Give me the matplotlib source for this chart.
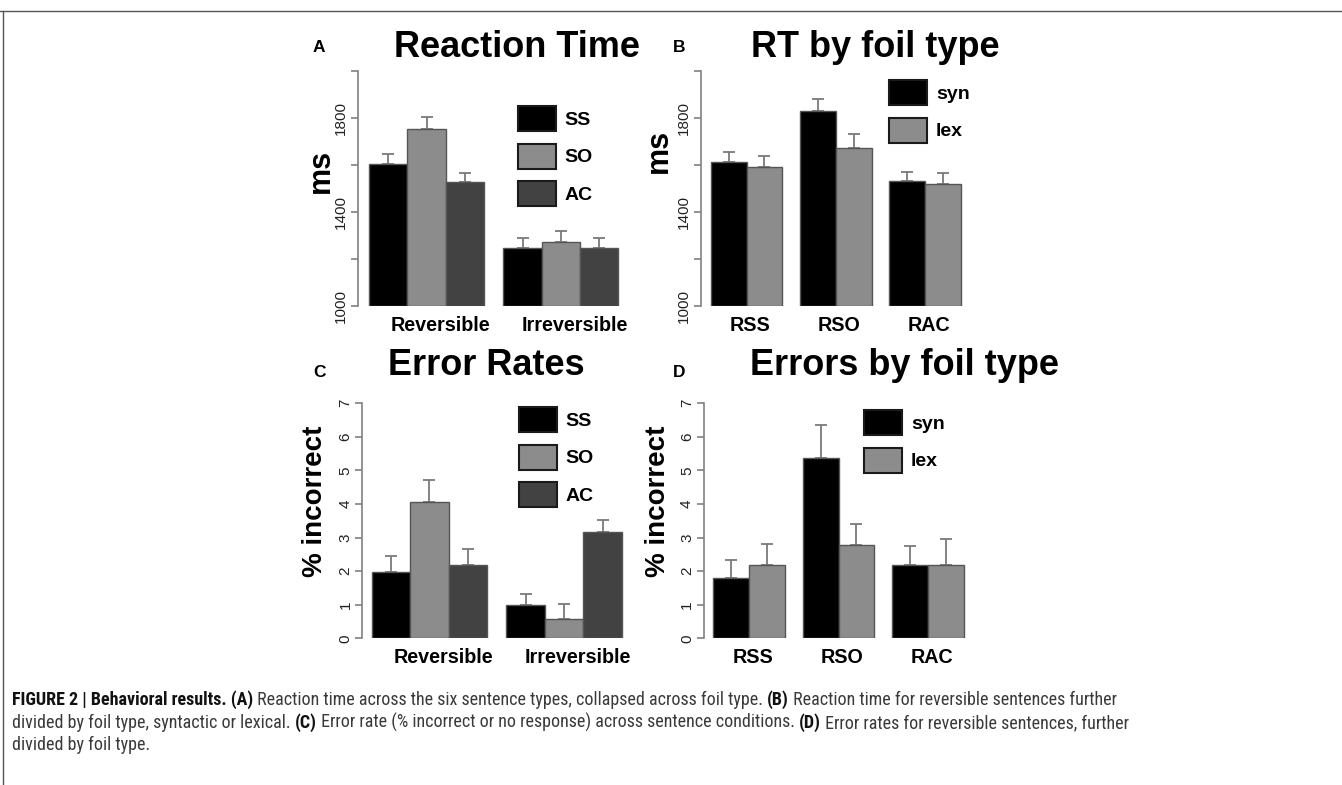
import numpy as np
import matplotlib
matplotlib.use('Agg')
import matplotlib.pyplot as plt
from matplotlib.patches import Patch
from matplotlib import font_manager as fm

# 데이터
rt_groups = ['Reversible', 'Irreversible']
rt_types = ['SS', 'SO', 'AC']
rt_mean = [[1603, 1752, 1526], [1247, 1271, 1247]]
rt_err = [[42, 51, 41], [41, 48, 41]]

foil_groups = ['RSS', 'RSO', 'RAC']
foil_types = ['syn', 'lex']
foil_rt_mean = [[1614, 1593], [1830, 1674], [1532, 1520]]
foil_rt_err = [[43, 45], [51, 59], [39, 46]]

er_mean = [[1.97, 4.05, 2.19], [0.98, 0.58, 3.18]]
er_err = [[0.47, 0.67, 0.48], [0.33, 0.43, 0.34]]

foil_er_mean = [[1.79, 2.19], [5.36, 2.77], [2.19, 2.19]]
foil_er_err = [[0.55, 0.63], [0.99, 0.64], [0.57, 0.76]]

rt_ticks = [1000, 1200, 1400, 1600, 1800, 2000]
rt_ticklabels = ['1000', '', '1400', '', '1800', '']
er_ticks = [0, 1, 2, 3, 4, 5, 6, 7]
er_ticklabels = ['0', '1', '2', '3', '4', '5', '6', '7']

type_colors = ['#000000', '#8c8c8c', '#424242']
foil_colors = ['#000000', '#8c8c8c']

W, H = 1342, 785
plt.rcParams['font.family'] = ['Liberation Sans', 'DejaVu Sans']

fig = plt.figure(figsize=(W / 100, H / 100), dpi=100)


def fx(x):
    return x / W


def fy(y):
    return 1 - y / H


def add_panel(left, top, bottom, unit, off, nbars):
    width = (nbars + 2 * off) * unit
    ax = fig.add_axes([fx(left), fy(bottom), width / W, (bottom - top) / H])
    ax.set_xlim(-off, nbars + off)
    return ax


def draw_bars(ax, groups, means, errs, colors, ymin, ticks, ticklabels, label_shift, label_y):
    n = len(means[0])
    centers = []
    for g in range(len(groups)):
        xs = np.array([g * (n + 0.5) + j for j in range(n)])
        vals = np.array(means[g])
        ax.bar(xs, vals - ymin, bottom=ymin, width=1, align='edge', color=colors,
               edgecolor='#555555', linewidth=1, zorder=2)
        ax.errorbar(xs + 0.5, vals, yerr=[np.zeros(n), errs[g]], fmt='none',
                    ecolor='#7a7a7a', elinewidth=1.3, capsize=4, capthick=1.3, zorder=1)
        centers.append(xs.mean() + 0.5)
    ax.set_ylim(ticks[0], ticks[-1])
    for s in ['top', 'right', 'bottom']:
        ax.spines[s].set_visible(False)
    ax.spines['left'].set_color('#808080')
    ax.spines['left'].set_linewidth(1.2)
    ax.set_xticks([])
    ax.set_yticks(ticks)
    ax.set_yticklabels(ticklabels, rotation=90, va='center', fontsize=11, color='#222222')
    ax.tick_params(axis='y', length=5, width=1.2, color='#808080', pad=2)
    ax.patch.set_visible(False)
    for c, name in zip(centers, groups):
        ax.text(c + label_shift, label_y, name, transform=ax.get_xaxis_transform(),
                ha='center', va='baseline', fontsize=14.2, fontweight='bold')


def add_legend(ax, labels, colors, x, y):
    handles = [Patch(facecolor=c, edgecolor='#1a1a1a', linewidth=1.5) for c in colors]
    ax.legend(handles, labels, loc='upper left', bbox_to_anchor=(fx(x), fy(y)),
              bbox_transform=fig.transFigure, frameon=False, borderpad=0, borderaxespad=0,
              handlelength=1.96, handleheight=1.6, handletextpad=0.45, labelspacing=0.65,
              prop={'weight': 'bold', 'size': 14})


# A: Reaction Time
axA = add_panel(358, 71, 306, 38.36, 0.29, 6.5)
draw_bars(axA, rt_groups, rt_mean, rt_err, type_colors, 1000, rt_ticks, rt_ticklabels,
          0.37, -(330.7 - 306) / (306 - 71))
add_legend(axA, rt_types, type_colors, 518, 106)

# B: RT by foil type
axB = add_panel(701, 71, 306, 35.67, 0.28, 7)
draw_bars(axB, foil_groups, foil_rt_mean, foil_rt_err, foil_colors, 1000, rt_ticks, rt_ticklabels,
          0.1, -(330.7 - 306) / (306 - 71))
add_legend(axB, foil_types, foil_colors, 889, 80)

# C: Error Rates
axC = add_panel(362.3, 403.3, 638.3, 38.5, 0.245, 6.5)
draw_bars(axC, rt_groups, er_mean, er_err, type_colors, 0, er_ticks, er_ticklabels,
          0.35, -(663 - 638.3) / (638.3 - 403.3))
add_legend(axC, rt_types, type_colors, 519, 407)

# D: Errors by foil type
axD = add_panel(703.7, 403.3, 638.3, 35.77, 0.27, 7)
draw_bars(axD, foil_groups, foil_er_mean, foil_er_err, foil_colors, 0, er_ticks, er_ticklabels,
          0.1, -(663 - 638.3) / (638.3 - 403.3))
add_legend(axD, foil_types, foil_colors, 864, 410)

# 제목, 패널 문자, y축 라벨
titles = [('Reaction Time', 516.7, 56.7), ('RT by foil type', 875, 56.7),
          ('Error Rates', 486.7, 375), ('Errors by foil type', 905, 375)]
for t, x, y in titles:
    fig.text(fx(x), fy(y), t, ha='center', va='baseline', fontsize=26, fontweight='bold')

letters = [('A', 313, 52.3), ('B', 673, 51.7), ('C', 313, 376.7), ('D', 673, 376.7)]
for t, x, y in letters:
    fig.text(fx(x), fy(y), t, ha='left', va='baseline', fontsize=12.5, fontweight='bold')

ylabels = [('ms', 321, 170.5), ('ms', 659, 151), ('% incorrect', 315, 501), ('% incorrect', 658, 501)]
for t, x, y in ylabels:
    fig.text(fx(x), fy(y), t, ha='center', va='center', rotation=90,
             fontsize=22 if t == 'ms' else 20, fontweight='bold')

# 테두리 선
fig.add_artist(plt.Line2D([0, 1], [fy(11), fy(11)], transform=fig.transFigure,
                          color='#555555', linewidth=1))
fig.add_artist(plt.Line2D([fx(3), fx(3)], [fy(11), 0], transform=fig.transFigure,
                          color='#555555', linewidth=1))

# 캡션
names = {f.name for f in fm.fontManager.ttflist}
cap_family = 'Liberation Sans'
for cand in ['Liberation Sans Narrow', 'Roboto Condensed', 'Open Sans Condensed']:
    if cand in names:
        cap_family = cand
        break

caption = [
    [('FIGURE 2 | Behavioral results. (A)', True),
     (' Reaction time across the six sentence types, collapsed across foil type. ', False),
     ('(B)', True), (' Reaction time for reversible sentences further', False)],
    [('divided by foil type, syntactic or lexical. ', False), ('(C)', True),
     (' Error rate (% incorrect or no response) across sentence conditions. ', False),
     ('(D)', True), (' Error rates for reversible sentences, further', False)],
    [('divided by foil type.', False)],
]
cap_y = [705, 728, 750]

renderer = fig.canvas.get_renderer()


def draw_line(segs, y, size):
    x = 12
    for s, bold in segs:
        t = fig.text(fx(x), fy(y), s, ha='left', va='baseline', fontsize=size,
                     family=cap_family, fontweight='bold' if bold else 'normal',
                     color='#111111' if bold else '#3a3a3a')
        x += t.get_window_extent(renderer).width


for segs, y in zip(caption, cap_y):
    draw_line(segs, y, 13)

fig.savefig('out.png', dpi=100)
